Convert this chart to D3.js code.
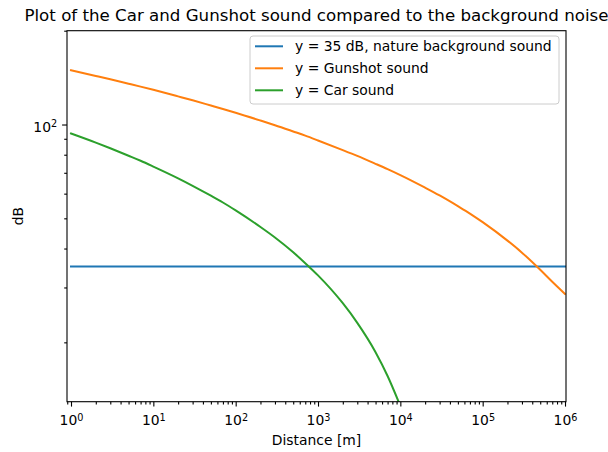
<!DOCTYPE html>
<html>
<head>
<meta charset="utf-8">
<script src="https://cdn.jsdelivr.net/npm/d3@7/dist/d3.min.js"></script>
<style>
  html, body { margin: 0; padding: 0; background: #fff; }
  svg { display: block; font-family: "DejaVu Sans", sans-serif; }
</style>
</head>
<body>
<svg id="chart" width="608" height="452"></svg>
<script>
// Distances in metres (shared x values)
const distances = [1, 2, 3, 5, 7, 10, 20, 30, 50, 70, 100, 200, 300, 500, 700,
  1000, 2000, 3000, 5000, 7000, 10000, 20000, 30000, 50000, 70000,
  100000, 200000, 300000, 500000, 700000, 1000000];

// Gunshot sound level (dB) at each distance
const gunshotDb = [149.3, 143.2, 139.7, 135.2, 132.3, 129.2, 123.1, 119.6, 115.1, 112.2,
  109.1, 103.0, 99.5, 95.0, 92.1, 88.9, 82.8, 79.3, 74.8, 71.9,
  68.8, 62.7, 59.2, 54.7, 51.8, 48.6, 42.4, 38.8, 34.2, 31.3, 28.6];

// Car sound level (dB), first 21 distances
const carDistances = distances.slice(0, 21);
const carDb = [93.6, 87.5, 83.9, 79.4, 76.5, 73.3, 67.2, 63.6, 59.1, 56.2,
  53.0, 46.9, 43.4, 38.9, 35.9, 32.8, 26.7, 23.1, 18.6, 15.6, 12.5];

// Constant nature background level
const backgroundDistances = [1, 1000000];
const backgroundDb = [35, 35];

const seriesNames = ["y = 35 dB, nature background sound", "y = Gunshot sound", "y = Car sound"];
const seriesColors = ["#1f77b4", "#ff7f0e", "#2ca02c"];

const xMajorTicks = [1, 10, 100, 1000, 10000, 100000, 1000000];
const yMajorTicks = [100];

const plotLeft = 67, plotRight = 566, plotTop = 30.7, plotBottom = 401.7;

const svg = d3.select("#chart");

const x = d3.scaleLog().domain([0.894, 1.028e6]).range([plotLeft, plotRight]);
const y = d3.scaleLog().domain([12.9, 200]).range([plotBottom, plotTop]);

// minor ticks: 2..9 in each decade within the domain
function minorTicks(scale) {
  const [a, b] = scale.domain();
  const out = [];
  for (let e = Math.floor(Math.log10(a)) - 1; e <= Math.ceil(Math.log10(b)); e++) {
    for (let m = 2; m <= 9; m++) {
      const v = m * Math.pow(10, e);
      if (v >= a && v <= b) out.push(v);
    }
  }
  return out;
}

svg.append("defs").append("clipPath").attr("id", "plotclip")
  .append("rect").attr("x", plotLeft).attr("y", plotTop)
  .attr("width", plotRight - plotLeft).attr("height", plotBottom - plotTop);

// data lines
const line = d3.line()
  .x(d => x(d[0])).y(d => y(d[1]))
  .curve(d3.curveMonotoneX);

const seriesData = [
  d3.zip(backgroundDistances, backgroundDb),
  d3.zip(distances, gunshotDb),
  d3.zip(carDistances, carDb)
];

const plot = svg.append("g").attr("clip-path", "url(#plotclip)");
seriesData.forEach((s, i) => {
  plot.append("path").datum(s)
    .attr("d", line)
    .attr("fill", "none")
    .attr("stroke", seriesColors[i])
    .attr("stroke-width", 2)
    .attr("stroke-linejoin", "round")
    .attr("stroke-linecap", "square");
});

// axes
function styleAxis(g) {
  g.select(".domain").remove();
  g.selectAll(".tick line").attr("stroke", "#000").attr("stroke-width", 1.1);
}

function powerLabel(sel, exp) {
  sel.text(null);
  sel.append("tspan").text("10");
  sel.append("tspan").attr("dy", "-0.45em").attr("font-size", "9.7px").text(exp);
}

// x axis: minor then major
svg.append("g").attr("transform", `translate(0,${plotBottom})`)
  .call(d3.axisBottom(x).tickValues(minorTicks(x)).tickSize(2.8).tickFormat(""))
  .call(styleAxis);

const gx = svg.append("g").attr("transform", `translate(0,${plotBottom})`)
  .call(d3.axisBottom(x).tickValues(xMajorTicks).tickSize(4.9).tickPadding(4))
  .call(styleAxis);
gx.selectAll(".tick text")
  .attr("font-family", "DejaVu Sans").attr("font-size", "13.9px").attr("fill", "#000")
  .attr("dy", null).attr("y", 23.5)
  .each(function(d) { powerLabel(d3.select(this), Math.round(Math.log10(d))); });

// y axis: minor then major
svg.append("g").attr("transform", `translate(${plotLeft},0)`)
  .call(d3.axisLeft(y).tickValues(minorTicks(y)).tickSize(2.8).tickFormat(""))
  .call(styleAxis);

const gy = svg.append("g").attr("transform", `translate(${plotLeft},0)`)
  .call(d3.axisLeft(y).tickValues(yMajorTicks).tickSize(4.9).tickPadding(4.9))
  .call(styleAxis);
gy.selectAll(".tick text")
  .attr("font-family", "DejaVu Sans").attr("font-size", "13.9px").attr("fill", "#000")
  .attr("dy", null).attr("y", 6.5)
  .each(function(d) { powerLabel(d3.select(this), Math.round(Math.log10(d))); });

// frame
svg.append("rect")
  .attr("x", plotLeft).attr("y", plotTop)
  .attr("width", plotRight - plotLeft).attr("height", plotBottom - plotTop)
  .attr("fill", "none").attr("stroke", "#000").attr("stroke-width", 1.1);

// title and axis labels
svg.append("text")
  .attr("x", (plotLeft + plotRight) / 2).attr("y", 21)
  .attr("text-anchor", "middle").attr("font-size", "16.67px").attr("fill", "#000")
  .text("Plot of the Car and Gunshot sound compared to the background noise");

svg.append("text")
  .attr("x", (plotLeft + plotRight) / 2).attr("y", 445)
  .attr("text-anchor", "middle").attr("font-size", "13.9px").attr("fill", "#000")
  .text("Distance [m]");

svg.append("text")
  .attr("transform", `translate(23.3,${(plotTop + plotBottom) / 2}) rotate(-90)`)
  .attr("text-anchor", "middle").attr("font-size", "13.9px").attr("fill", "#000")
  .text("dB");

// legend
const legend = svg.append("g");
legend.append("rect")
  .attr("x", 250).attr("y", 36).attr("width", 309).attr("height", 68)
  .attr("rx", 3).attr("ry", 3)
  .attr("fill", "#fff").attr("fill-opacity", 0.8)
  .attr("stroke", "#cccccc").attr("stroke-width", 1);

seriesNames.forEach((name, i) => {
  const cy = 46.3 + i * 22;
  legend.append("line")
    .attr("x1", 255).attr("x2", 283).attr("y1", cy).attr("y2", cy)
    .attr("stroke", seriesColors[i]).attr("stroke-width", 2);
  legend.append("text")
    .attr("x", 295).attr("y", cy + 5)
    .attr("font-size", "13.9px").attr("fill", "#000")
    .text(name);
});
</script>
</body>
</html>
